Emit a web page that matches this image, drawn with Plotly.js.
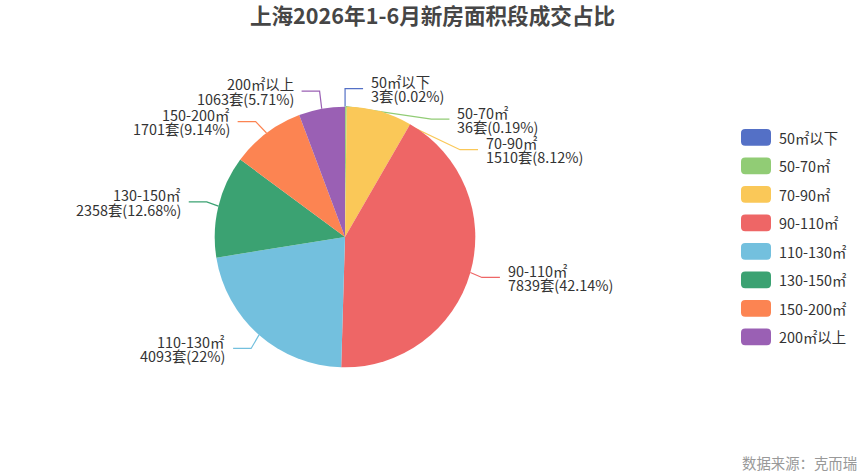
<!DOCTYPE html>
<html>
<head>
<meta charset="utf-8">
<script src="https://cdn.plot.ly/plotly-3.0.1.min.js"></script>
<style>
html,body{margin:0;padding:0;background:#ffffff;}
#chart{width:865px;height:475px;}
</style>
</head>
<body>
<div id="chart"></div>
<script>
// ---- data ----
const categories = ['50㎡以下','50-70㎡','70-90㎡','90-110㎡','110-130㎡','130-150㎡','150-200㎡','200㎡以上'];
const counts = [3, 36, 1510, 7839, 4093, 2358, 1701, 1063];
const colors = ['#5470c6','#91cc75','#fac858','#ee6666','#73c0de','#3ba272','#fc8452','#9a60b4'];
const unit = '套';
const titleText = '上海2026年1-6月新房面积段成交占比';
const sourceText = '数据来源：克而瑞';

// ---- layout constants ----
const W = 865, H = 475;
const CX = 345, CY = 237, R = 130.3;
const LEN_X = 12, LEN_Y = 18, LEN2 = 18, GAP = 7, LABEL_H = 30.5, LINE_OFF = 7.2;
const FONT = '"Noto Sans CJK SC", "Noto Sans", sans-serif';
const TEXT_COLOR = '#333333';

const total = counts.reduce((a, b) => a + b, 0);
function pctText(v) { return String(Math.round(v / total * 10000) / 100); }

// label placement derived from slice angles
let cum = 0;
const items = counts.map((v, i) => {
  const a0 = cum / total * 2 * Math.PI; cum += v;
  const a1 = cum / total * 2 * Math.PI;
  const mid = (a0 + a1) / 2;
  const s = Math.sin(mid), c = Math.cos(mid);
  return { i: i, side: s >= 0 ? 1 : -1, sx: CX + R * s, sy: CY - R * c, y: CY - (R + LEN_Y) * c };
});
[1, -1].forEach(side => {
  const list = items.filter(d => d.side === side).sort((a, b) => a.y - b.y);
  for (let k = 1; k < list.length; k++) {
    if (list[k].y < list[k - 1].y + LABEL_H) list[k].y = list[k - 1].y + LABEL_H;
  }
});
items.forEach(d => {
  const a = R + LEN_X, b = R + LEN_Y;
  const dy = d.y - CY;
  const t = Math.max(0, 1 - dy * dy / (b * b));
  d.cx = CX + d.side * a * Math.sqrt(t);
  d.ex = d.cx + d.side * LEN2;
  d.tx = d.ex + d.side * GAP;
});

// ---- traces ----
const traces = [];
items.forEach(d => {
  traces.push({
    type: 'scatter', mode: 'lines',
    x: [d.sx, d.cx, d.ex], y: [d.sy, d.y, d.y],
    line: { color: colors[d.i], width: 1.2 },
    hoverinfo: 'skip', showlegend: false
  });
});
traces.push({
  type: 'pie',
  labels: categories, values: counts,
  marker: { colors: colors, line: { width: 0 } },
  sort: false, direction: 'clockwise', rotation: 0,
  textinfo: 'none',
  domain: { x: [(CX - R) / W, (CX + R) / W], y: [(H - CY - R) / H, (H - CY + R) / H] },
  showlegend: false,
  hovertemplate: '%{label}<br>%{value}' + unit + '<extra></extra>'
});

// ---- annotations ----
const annotations = [];
items.forEach(d => {
  const anchor = d.side > 0 ? 'left' : 'right';
  const l1 = categories[d.i];
  const l2 = counts[d.i] + unit + '(' + pctText(counts[d.i]) + '%)';
  [[l1, -LINE_OFF], [l2, LINE_OFF]].forEach(p => {
    annotations.push({
      x: d.tx, y: d.y + p[1], xref: 'x', yref: 'y', text: p[0], showarrow: false,
      xanchor: anchor, yanchor: 'middle', borderpad: 0,
      font: { family: FONT, size: 14.4, color: TEXT_COLOR }
    });
  });
});

// custom legend
const LEG_X0 = 741, LEG_X1 = 771, LEG_Y0 = 137.3, LEG_STEP = 28.5, LEG_HH = 8.4, LEG_R = 4.2, LEG_TX = 778;
function rr(x0, y0, x1, y1, r) {
  return `M${x0 + r},${y0} L${x1 - r},${y0} Q${x1},${y0} ${x1},${y0 + r} L${x1},${y1 - r} Q${x1},${y1} ${x1 - r},${y1} L${x0 + r},${y1} Q${x0},${y1} ${x0},${y1 - r} L${x0},${y0 + r} Q${x0},${y0} ${x0 + r},${y0} Z`;
}
const shapes = [];
categories.forEach((cat, i) => {
  const yc = LEG_Y0 + i * LEG_STEP;
  shapes.push({
    type: 'path', xref: 'x', yref: 'y',
    path: rr(LEG_X0, yc - LEG_HH, LEG_X1, yc + LEG_HH, LEG_R),
    fillcolor: colors[i], line: { width: 0 }
  });
  annotations.push({
    x: LEG_TX, y: yc, xref: 'x', yref: 'y', text: cat, showarrow: false,
    xanchor: 'left', yanchor: 'middle', borderpad: 0,
    font: { family: FONT, size: 14.4, color: TEXT_COLOR }
  });
});

annotations.push({
  x: 858, y: 462, xref: 'x', yref: 'y', text: sourceText, showarrow: false,
  xanchor: 'right', yanchor: 'middle', borderpad: 0,
  font: { family: FONT, size: 14.4, color: '#999999' }
});

const layout = {
  width: W, height: H,
  margin: { l: 0, r: 0, t: 0, b: 0, pad: 0 },
  paper_bgcolor: '#ffffff', plot_bgcolor: '#ffffff',
  showlegend: false,
  title: {
    text: titleText,
    font: { family: FONT, size: 21.6, color: '#464646', weight: 'bold' },
    x: 0.5, xanchor: 'center', xref: 'container',
    y: 1 - 16.5 / H, yanchor: 'middle', yref: 'container'
  },
  xaxis: { range: [0, W], visible: false, fixedrange: true, showgrid: false, zeroline: false },
  yaxis: { range: [H, 0], visible: false, fixedrange: true, showgrid: false, zeroline: false },
  annotations: annotations,
  shapes: shapes,
  hovermode: 'closest'
};

Plotly.newPlot('chart', traces, layout, { displayModeBar: false, responsive: false });
</script>
</body>
</html>
